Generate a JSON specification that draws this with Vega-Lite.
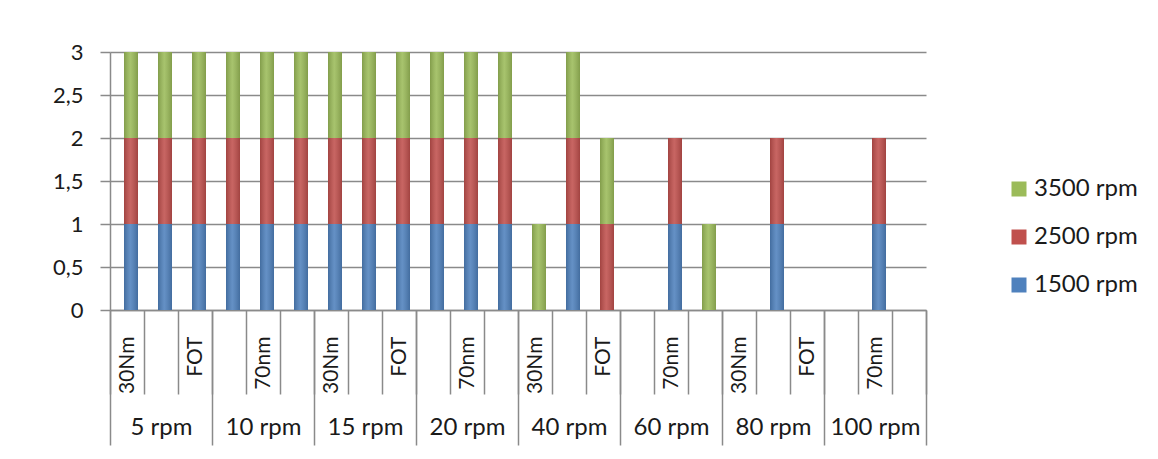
{
  "$schema": "https://vega.github.io/schema/vega-lite/v6.json",
  "width": 816,
  "height": 258,
  "autosize": {"type": "none"},
  "padding": {"left": 110, "top": 52, "right": 232, "bottom": 149},
  "background": "white",
  "config": {"view": {"stroke": null}, "font": "Lato"},
  "data": {"values": [
    {"group": "5 rpm", "sub": "30Nm", "bar": "5 rpm / 30Nm", "1500 rpm": 1, "2500 rpm": 1, "3500 rpm": 1},
    {"group": "5 rpm", "sub": "70nm", "bar": "5 rpm / 70nm", "1500 rpm": 1, "2500 rpm": 1, "3500 rpm": 1},
    {"group": "5 rpm", "sub": "FOT", "bar": "5 rpm / FOT", "1500 rpm": 1, "2500 rpm": 1, "3500 rpm": 1},
    {"group": "10 rpm", "sub": "30Nm", "bar": "10 rpm / 30Nm", "1500 rpm": 1, "2500 rpm": 1, "3500 rpm": 1},
    {"group": "10 rpm", "sub": "70nm", "bar": "10 rpm / 70nm", "1500 rpm": 1, "2500 rpm": 1, "3500 rpm": 1},
    {"group": "10 rpm", "sub": "FOT", "bar": "10 rpm / FOT", "1500 rpm": 1, "2500 rpm": 1, "3500 rpm": 1},
    {"group": "15 rpm", "sub": "30Nm", "bar": "15 rpm / 30Nm", "1500 rpm": 1, "2500 rpm": 1, "3500 rpm": 1},
    {"group": "15 rpm", "sub": "70nm", "bar": "15 rpm / 70nm", "1500 rpm": 1, "2500 rpm": 1, "3500 rpm": 1},
    {"group": "15 rpm", "sub": "FOT", "bar": "15 rpm / FOT", "1500 rpm": 1, "2500 rpm": 1, "3500 rpm": 1},
    {"group": "20 rpm", "sub": "30Nm", "bar": "20 rpm / 30Nm", "1500 rpm": 1, "2500 rpm": 1, "3500 rpm": 1},
    {"group": "20 rpm", "sub": "70nm", "bar": "20 rpm / 70nm", "1500 rpm": 1, "2500 rpm": 1, "3500 rpm": 1},
    {"group": "20 rpm", "sub": "FOT", "bar": "20 rpm / FOT", "1500 rpm": 1, "2500 rpm": 1, "3500 rpm": 1},
    {"group": "40 rpm", "sub": "30Nm", "bar": "40 rpm / 30Nm", "1500 rpm": 0, "2500 rpm": 0, "3500 rpm": 1},
    {"group": "40 rpm", "sub": "70nm", "bar": "40 rpm / 70nm", "1500 rpm": 1, "2500 rpm": 1, "3500 rpm": 1},
    {"group": "40 rpm", "sub": "FOT", "bar": "40 rpm / FOT", "1500 rpm": 0, "2500 rpm": 1, "3500 rpm": 1},
    {"group": "60 rpm", "sub": "30Nm", "bar": "60 rpm / 30Nm", "1500 rpm": 0, "2500 rpm": 0, "3500 rpm": 0},
    {"group": "60 rpm", "sub": "70nm", "bar": "60 rpm / 70nm", "1500 rpm": 1, "2500 rpm": 1, "3500 rpm": 0},
    {"group": "60 rpm", "sub": "FOT", "bar": "60 rpm / FOT", "1500 rpm": 0, "2500 rpm": 0, "3500 rpm": 1},
    {"group": "80 rpm", "sub": "30Nm", "bar": "80 rpm / 30Nm", "1500 rpm": 0, "2500 rpm": 0, "3500 rpm": 0},
    {"group": "80 rpm", "sub": "70nm", "bar": "80 rpm / 70nm", "1500 rpm": 1, "2500 rpm": 1, "3500 rpm": 0},
    {"group": "80 rpm", "sub": "FOT", "bar": "80 rpm / FOT", "1500 rpm": 0, "2500 rpm": 0, "3500 rpm": 0},
    {"group": "100 rpm", "sub": "30Nm", "bar": "100 rpm / 30Nm", "1500 rpm": 0, "2500 rpm": 0, "3500 rpm": 0},
    {"group": "100 rpm", "sub": "70nm", "bar": "100 rpm / 70nm", "1500 rpm": 1, "2500 rpm": 1, "3500 rpm": 0},
    {"group": "100 rpm", "sub": "FOT", "bar": "100 rpm / FOT", "1500 rpm": 0, "2500 rpm": 0, "3500 rpm": 0}
  ]},
  "transform": [{"fold": ["1500 rpm", "2500 rpm", "3500 rpm"], "as": ["speed", "value"]}],
  "layer": [
    {
      "layer": [
        {
          "mark": {"type": "bar", "width": 14, "xOffset": 4},
          "encoding": {
            "x": {
              "field": "bar", "type": "nominal", "sort": null,
              "scale": {"type": "band", "paddingInner": 0, "paddingOuter": 0},
              "axis": {
                "orient": "bottom", "title": null, "grid": false,
                "domain": true, "domainColor": "#8a8a8a", "domainWidth": 1.5,
                "ticks": true, "tickBand": "extent", "tickSize": 84, "tickColor": "#8a8a8a", "tickWidth": 1.5,
                "labelAngle": 270, "labelPadding": -58, "labelOverlap": false,
                "labelExpr": "round(datum.index * 23) % 2 == 0 ? split(datum.value, ' / ')[1] : ''",
                "labelFont": "Lato", "labelFontSize": 21, "labelColor": "#1a1a1a"
              }
            },
            "y": {
              "field": "value", "type": "quantitative", "stack": "zero",
              "scale": {"domain": [0, 3], "nice": false},
              "axis": {
                "title": null, "values": [0, 0.5, 1, 1.5, 2, 2.5, 3],
                "labelExpr": "replace(format(datum.value, '~g'), '.', ',')",
                "grid": true, "gridColor": "#8a8a8a", "gridWidth": 1.5,
                "domain": true, "domainColor": "#8a8a8a", "domainWidth": 1.5,
                "tickSize": 10, "tickColor": "#8a8a8a", "tickWidth": 1.5,
                "labelPadding": 17, "labelFont": "Lato", "labelFontSize": 22, "labelColor": "#1a1a1a"
              }
            },
            "color": {
              "field": "speed", "type": "nominal",
              "scale": {"domain": ["3500 rpm", "2500 rpm", "1500 rpm"], "range": ["#9BBB59", "#C0504D", "#4F81BD"]},
              "legend": {
                "title": null, "orient": "none", "legendX": 897, "legendY": 125, "padding": 0,
                "symbolType": "square", "symbolSize": 225, "symbolStrokeWidth": 0,
                "labelFont": "Lato", "labelFontSize": 24, "labelColor": "#1a1a1a",
                "rowPadding": 24, "labelOffset": 3
              }
            },
            "order": {"field": "speed", "sort": "ascending"}
          }
        },
        {
          "mark": {
            "type": "bar", "width": 14, "xOffset": 4,
            "fill": {"gradient": "linear", "x1": 0, "y1": 0, "x2": 1, "y2": 0, "stops": [
              {"offset": 0, "color": "rgba(0,0,0,0.16)"},
              {"offset": 0.45, "color": "rgba(255,255,255,0.12)"},
              {"offset": 1, "color": "rgba(0,0,0,0.16)"}
            ]}
          },
          "encoding": {
            "x": {"field": "bar", "type": "nominal", "sort": null},
            "y": {"field": "value", "type": "quantitative", "stack": "zero"},
            "detail": {"field": "speed"},
            "order": {"field": "speed", "sort": "ascending"}
          }
        }
      ]
    },
    {
      "mark": {"type": "point", "opacity": 0},
      "encoding": {
        "x": {
          "field": "group", "type": "nominal", "sort": null,
          "scale": {"type": "band", "paddingInner": 0, "paddingOuter": 0},
          "axis": {
            "orient": "bottom", "title": null, "grid": false, "domain": false,
            "ticks": true, "tickBand": "extent", "tickSize": 135, "tickColor": "#8a8a8a", "tickWidth": 1.5,
            "labelAngle": 0, "labelPadding": -30, "labelOverlap": false,
            "labelFont": "Lato", "labelFontSize": 24, "labelColor": "#1a1a1a"
          }
        },
        "y": {"datum": 0}
      }
    }
  ],
  "resolve": {"scale": {"x": "independent"}, "axis": {"x": "independent"}}
}
